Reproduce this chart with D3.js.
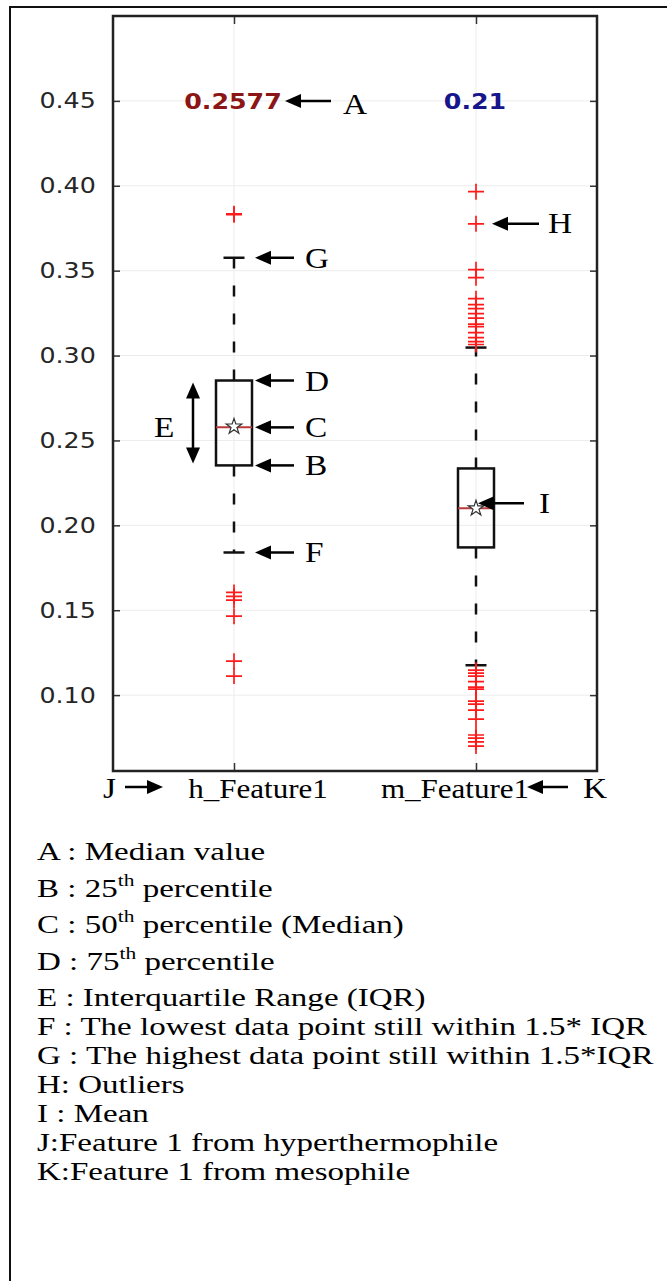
<!DOCTYPE html>
<html>
<head>
<meta charset="utf-8">
<script src="https://cdn.jsdelivr.net/npm/d3@7"></script>
<style>
  body { margin: 0; background: #fff; }
  #chart { width: 667px; height: 1281px; }
</style>
</head>
<body>
<div id="chart"></div>
<script>
// Box plot statistics
const categories = ["h_Feature1", "m_Feature1"];
const q1 = [0.2353, 0.1870];
const medians = [0.2577, 0.2100];
const q3 = [0.2853, 0.2335];
const whiskerLow = [0.1840, 0.1176];
const whiskerHigh = [0.3576, 0.3047];
const means = [0.2582, 0.2100];
const medianLabels = ["0.2577", "0.21"];
const outliersH = [0.3835, 0.3830, 0.1605, 0.1582, 0.1560, 0.1465, 0.1200, 0.1112];
const outliersM = [0.3965, 0.3776, 0.3506, 0.3459, 0.3335, 0.3300, 0.3276, 0.3247, 0.3220,
    0.3185, 0.3170, 0.3135, 0.3106, 0.3082, 0.3065,
    0.1147, 0.1130, 0.1112, 0.1080, 0.1047, 0.1035, 0.0965, 0.0947, 0.0912, 0.0859,
    0.0765, 0.0747, 0.0724, 0.0700];
const yTicks = [0.10, 0.15, 0.20, 0.25, 0.30, 0.35, 0.40, 0.45];

// Legend lines; "^" marks a superscript chunk
const legendLines = [
    "A : Median value",
    "B : 25^th^ percentile",
    "C : 50^th^ percentile (Median)",
    "D : 75^th^ percentile",
    "E : Interquartile Range (IQR)",
    "F : The lowest data point still within 1.5* IQR",
    "G : The highest data point still within 1.5*IQR",
    "H: Outliers",
    "I : Mean",
    "J:Feature 1 from hyperthermophile",
    "K:Feature 1 from mesophile"
];

const width = 667, height = 1281;
const plot = { left: 113, right: 597, top: 16, bottom: 771 };
const sx = 1.15; // the figure is stretched horizontally
const serif = "'Liberation Serif', 'Times New Roman', serif";
const sans = "'DejaVu Sans', sans-serif";

const x = d3.scaleLinear().domain([0.5, 2.5]).range([plot.left, plot.right]);
const y = d3.scaleLinear().domain([0.0553, 0.5]).range([plot.bottom, plot.top]);
const catX = i => x(i + 1);

const svg = d3.create("svg")
    .attr("width", width)
    .attr("height", height)
    .attr("viewBox", [0, 0, width, height]);

// Outer frame of the figure (runs off the right and bottom edge)
svg.append("path")
    .attr("d", `M10,${height + 5}V7H${width + 5}`)
    .attr("fill", "none")
    .attr("stroke", "#111")
    .attr("stroke-width", 2);

// Place stretched text
function place(sel, px, py, s = sx) {
    return sel.attr("transform", `translate(${px},${py}) scale(${s},1)`);
}

// Grid
const grid = svg.append("g").attr("stroke", "#ececec").attr("stroke-width", 1);
grid.selectAll(".gy").data(yTicks).join("line")
    .attr("x1", plot.left).attr("x2", plot.right)
    .attr("y1", d => y(d)).attr("y2", d => y(d));
grid.selectAll(".gx").data(categories).join("line")
    .attr("x1", (d, i) => catX(i)).attr("x2", (d, i) => catX(i))
    .attr("y1", plot.top).attr("y2", plot.bottom);

// Axes with inward ticks
const yAxis = svg.append("g")
    .attr("transform", `translate(${plot.left},0)`)
    .call(d3.axisLeft(y).tickValues(yTicks).tickFormat(d3.format(".2f")).tickSize(-7).tickPadding(15));
yAxis.select(".domain").remove();
yAxis.selectAll("line").attr("stroke", "#333").attr("stroke-width", 1.5);
yAxis.selectAll("text")
    .attr("transform", `scale(${sx},1)`)
    .style("font-family", sans)
    .style("font-size", "22px")
    .attr("fill", "#262626");

const yAxisR = svg.append("g")
    .attr("transform", `translate(${plot.right},0)`)
    .call(d3.axisRight(y).tickValues(yTicks).tickFormat("").tickSize(-7));
yAxisR.select(".domain").remove();
yAxisR.selectAll("line").attr("stroke", "#333").attr("stroke-width", 1.5);

const xTickVals = categories.map((d, i) => i + 1);
const xAxisB = svg.append("g")
    .attr("transform", `translate(0,${plot.bottom})`)
    .call(d3.axisBottom(x).tickValues(xTickVals).tickFormat("").tickSize(-8));
const xAxisT = svg.append("g")
    .attr("transform", `translate(0,${plot.top})`)
    .call(d3.axisTop(x).tickValues(xTickVals).tickFormat("").tickSize(-8));
[xAxisB, xAxisT].forEach(a => {
    a.select(".domain").remove();
    a.selectAll("line").attr("stroke", "#333").attr("stroke-width", 1.5);
});

// Box plots
const boxW = 36, capW = 21;
const boxes = svg.append("g").selectAll("g").data(categories).join("g");

boxes.append("line") // upper whisker
    .attr("x1", (d, i) => catX(i)).attr("x2", (d, i) => catX(i))
    .attr("y1", (d, i) => y(q3[i])).attr("y2", (d, i) => y(whiskerHigh[i]))
    .attr("stroke", "#111").attr("stroke-width", 2.5).attr("stroke-dasharray", "11,17");
boxes.append("line") // lower whisker
    .attr("x1", (d, i) => catX(i)).attr("x2", (d, i) => catX(i))
    .attr("y1", (d, i) => y(q1[i])).attr("y2", (d, i) => y(whiskerLow[i]))
    .attr("stroke", "#111").attr("stroke-width", 2.5).attr("stroke-dasharray", "11,17");
[whiskerHigh, whiskerLow].forEach(w => {
    boxes.append("line")
        .attr("x1", (d, i) => catX(i) - capW / 2).attr("x2", (d, i) => catX(i) + capW / 2)
        .attr("y1", (d, i) => y(w[i])).attr("y2", (d, i) => y(w[i]))
        .attr("stroke", "#111").attr("stroke-width", 2.5);
});
boxes.append("rect")
    .attr("x", (d, i) => catX(i) - boxW / 2)
    .attr("width", boxW)
    .attr("y", (d, i) => y(q3[i]))
    .attr("height", (d, i) => y(q1[i]) - y(q3[i]))
    .attr("fill", "none").attr("stroke", "#111").attr("stroke-width", 2.5);
boxes.append("line") // median
    .attr("x1", (d, i) => catX(i) - boxW / 2).attr("x2", (d, i) => catX(i) + boxW / 2)
    .attr("y1", (d, i) => y(medians[i])).attr("y2", (d, i) => y(medians[i]))
    .attr("stroke", "#b83a3a").attr("stroke-width", 2);
boxes.append("path") // mean star
    .attr("d", d3.symbol(d3.symbolStar).size(75)())
    .attr("transform", (d, i) => `translate(${catX(i)},${y(means[i])})`)
    .attr("fill", "#fff").attr("stroke", "#333").attr("stroke-width", 1.2);

// Outliers as red plus signs
const outlierSets = [outliersH, outliersM];
const fliers = svg.append("g").attr("stroke", "#ff1a1a").attr("stroke-width", 1.7).attr("fill", "none");
outlierSets.forEach((set, i) => {
    fliers.selectAll(null).data(set).join("path")
        .attr("d", "M-8,0H8M0,-8V8")
        .attr("transform", d => `translate(${catX(i)},${y(d)})`);
});

// Plot frame
svg.append("rect")
    .attr("x", plot.left).attr("y", plot.top)
    .attr("width", plot.right - plot.left).attr("height", plot.bottom - plot.top)
    .attr("fill", "none").attr("stroke", "#222").attr("stroke-width", 2.5);

// Median value labels
const labelColors = ["#8c1515", "#16168a"];
medianLabels.forEach((t, i) => {
    place(svg.append("text"), catX(i) - 1, y(0.45))
        .attr("text-anchor", "middle")
        .attr("dy", "0.36em")
        .style("font-family", sans)
        .style("font-size", "22px")
        .style("font-weight", "bold")
        .attr("fill", labelColors[i])
        .text(t);
});

// Category labels (offset as in the figure)
const catLabelShift = [24, -21];
categories.forEach((c, i) => {
    place(svg.append("text"), catX(i) + catLabelShift[i], plot.bottom + 27)
        .attr("text-anchor", "middle")
        .style("font-family", serif)
        .style("font-size", "27px")
        .attr("fill", "#000")
        .text(c);
});

// Arrow helpers
const ann = svg.append("g");
function head(tx, ty, dx, dy) {
    const len = Math.hypot(dx, dy), ux = dx / len, uy = dy / len;
    const L = 16, W = 7;
    const bx = tx - ux * L, by = ty - uy * L;
    ann.append("path")
        .attr("d", `M${tx},${ty}L${bx - uy * W},${by + ux * W}L${bx + uy * W},${by - ux * W}Z`)
        .attr("fill", "#000");
}
function arrow(x1, y1, x2, y2, both) {
    const dx = x2 - x1, dy = y2 - y1, len = Math.hypot(dx, dy);
    const ux = dx / len, uy = dy / len;
    ann.append("line")
        .attr("x1", both ? x1 + ux * 10 : x1).attr("y1", both ? y1 + uy * 10 : y1)
        .attr("x2", x2 - ux * 10).attr("y2", y2 - uy * 10)
        .attr("stroke", "#000").attr("stroke-width", 2.5);
    head(x2, y2, dx, dy);
    if (both) head(x1, y1, -dx, -dy);
}
function letter(t, px, py) {
    place(ann.append("text"), px, py)
        .style("font-family", serif)
        .style("font-size", "29px")
        .attr("fill", "#000")
        .text(t);
}

const hx = catX(0), mx = catX(1);
// A: median label of the first box
arrow(hx + 97, y(0.45), hx + 51, y(0.45));
letter("A", hx + 109, y(0.45) + 13);
// G, D, C, B, F on the first box
[["G", whiskerHigh[0]], ["D", q3[0]], ["C", medians[0]], ["B", q1[0]], ["F", whiskerLow[0]]]
    .forEach(([t, v]) => {
        arrow(hx + 60, y(v), hx + 21, y(v));
        letter(t, hx + 71, y(v) + 10);
    });
// E: interquartile range
arrow(hx - 41, y(q3[0]) + 2, hx - 41, y(q1[0]) - 2, true);
letter("E", hx - 80, y(medians[0]) + 10);
// H: an outlier, I: mean of the second box
arrow(mx + 63, y(outliersM[1]), mx + 16, y(outliersM[1]));
letter("H", mx + 72, y(outliersM[1]) + 9);
arrow(mx + 48, y(means[1]) - 5, mx + 2, y(means[1]) - 5);
letter("I", mx + 63, y(means[1]) + 5);
// J and K beside the category labels
arrow(plot.left + 12, plot.bottom + 16, plot.left + 50, plot.bottom + 16);
letter("J", plot.left - 10, plot.bottom + 27);
arrow(plot.right - 29, plot.bottom + 16, plot.right - 70, plot.bottom + 16);
letter("K", plot.right - 14, plot.bottom + 27);

// Legend text (tight line spacing as in the figure)
const legend = svg.append("g");
let ly = 860;
legendLines.forEach((line, i) => {
    const hasSup = s => s.includes("^");
    if (i > 0) ly += (hasSup(line) || hasSup(legendLines[i - 1])) ? 36.5 : 29;
    const t = place(legend.append("text"), 37, ly, 1.26)
        .style("font-family", serif)
        .style("font-size", "26.2px")
        .attr("fill", "#000");
    line.split("^").forEach((part, k) => {
        const ts = t.append("tspan").text(part);
        if (k % 2 === 1) {
            ts.style("font-size", "17px").attr("dy", -11);
        } else if (k > 0) {
            ts.attr("dy", 11);
        }
    });
});

document.getElementById("chart").appendChild(svg.node());
</script>
</body>
</html>
